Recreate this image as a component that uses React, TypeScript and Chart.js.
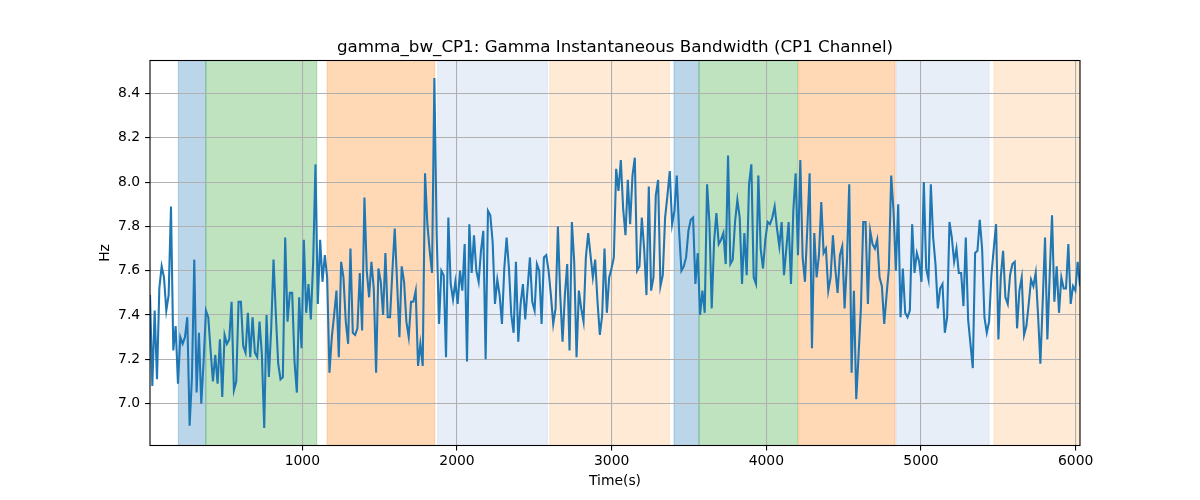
import { useEffect, useRef } from "react";
import { Chart, registerables } from "chart.js";

Chart.register(...registerables);

// sampling of the bandwidth trace (seconds)
const T_START = 15;
const T_STEP = 15.07;

// gamma instantaneous bandwidth, CP1 channel (Hz)
const bandwidth = [
  7.49, 7.08, 7.42, 7.11, 7.52, 7.62, 7.57, 7.42, 7.49, 7.89,
  7.24, 7.35, 7.09, 7.30, 7.27, 7.30, 7.39, 6.90, 7.12, 7.65,
  7.05, 7.32, 7.00, 7.19, 7.42, 7.39, 7.24, 7.10, 7.22, 7.09,
  7.29, 7.03, 7.31, 7.27, 7.29, 7.46, 7.06, 7.10, 7.46, 7.46,
  7.26, 7.23, 7.41, 7.21, 7.39, 7.23, 7.21, 7.37, 7.22, 6.89,
  7.40, 7.12, 7.34, 7.65, 7.40, 7.18, 7.11, 7.12, 7.75, 7.37,
  7.50, 7.50, 7.19, 7.05, 7.48, 7.25, 7.74, 7.41, 7.54, 7.38,
  7.64, 8.08, 7.45, 7.74, 7.55, 7.67, 7.57, 7.14, 7.30, 7.40,
  7.51, 7.21, 7.64, 7.57, 7.37, 7.27, 7.70, 7.32, 7.31, 7.34,
  7.59, 7.33, 7.93, 7.60, 7.48, 7.64, 7.52, 7.14, 7.61, 7.55,
  7.40, 7.68, 7.39, 7.39, 7.60, 7.79, 7.55, 7.30, 7.62, 7.55,
  7.37, 7.30, 7.46, 7.46, 7.51, 7.17, 7.27, 7.17, 8.04, 7.81,
  7.69, 7.59, 8.47, 7.76, 7.36, 7.60, 7.58, 7.21, 7.84, 7.54,
  7.47, 7.55, 7.45, 7.60, 7.51, 7.72, 7.19, 7.81, 7.59, 7.76,
  7.60, 7.55, 7.69, 7.78, 7.20, 7.87, 7.85, 7.73, 7.45, 7.56,
  7.49, 7.36, 7.61, 7.75, 7.61, 7.40, 7.32, 7.64, 7.28, 7.45,
  7.54, 7.38, 7.52, 7.66, 7.46, 7.42, 7.63, 7.60, 7.36, 7.66,
  7.67, 7.60, 7.49, 7.36, 7.43, 7.80, 7.49, 7.28, 7.49, 7.63,
  7.24, 7.82, 7.64, 7.21, 7.51, 7.43, 7.37, 7.66, 7.77, 7.67,
  7.57, 7.65, 7.46, 7.31, 7.40, 7.70, 7.41, 7.57, 7.61, 7.66,
  8.06, 7.96, 8.10, 7.88, 7.76, 8.01, 7.81, 8.03, 8.11, 7.60,
  7.62, 7.84, 7.70, 7.49, 7.98, 7.51, 7.57, 7.94, 8.01, 7.53,
  7.58, 7.84, 7.94, 8.05, 7.81, 7.87, 8.03, 7.78, 7.60, 7.62,
  7.66, 7.78, 7.83, 7.84, 7.54, 7.68, 7.40, 7.51, 7.41, 7.99,
  7.82, 7.43, 7.73, 7.86, 7.72, 7.74, 7.77, 7.63, 8.12, 7.63,
  7.65, 7.82, 7.92, 7.84, 7.54, 7.77, 7.58, 7.99, 8.08, 7.57,
  7.54, 8.03, 7.70, 7.61, 7.74, 7.82, 7.81, 7.84, 7.89, 7.79,
  7.71, 7.82, 7.58, 7.70, 7.82, 7.54, 7.87, 8.04, 7.67, 8.10,
  7.66, 7.55, 7.79, 8.04, 7.25, 7.77, 7.57, 7.67, 7.91, 7.68,
  7.70, 7.51, 7.57, 7.76, 7.61, 7.50, 7.67, 7.71, 7.43, 7.64,
  7.99, 7.14, 7.51, 7.02, 7.22, 7.43, 7.82, 7.82, 7.45, 7.78,
  7.72, 7.70, 7.74, 7.57, 7.53, 7.36, 7.49, 7.61, 8.03, 7.87,
  7.60, 7.90, 7.39, 7.61, 7.41, 7.39, 7.42, 7.81, 7.59, 7.68,
  7.64, 7.55, 8.00, 7.61, 7.56, 7.99, 7.75, 7.63, 7.43, 7.52,
  7.54, 7.32, 7.39, 7.82, 7.75, 7.64, 7.70, 7.59, 7.59, 7.44,
  7.75, 7.38, 7.27, 7.16, 7.68, 7.69, 7.83, 7.70, 7.39, 7.32,
  7.37, 7.58, 7.70, 7.81, 7.29, 7.57, 7.69, 7.48, 7.45, 7.58,
  7.63, 7.64, 7.34, 7.51, 7.57, 7.31, 7.35, 7.45, 7.56, 7.53,
  7.59, 7.40, 7.18, 7.46, 7.75, 7.29, 7.58, 7.85, 7.46, 7.62,
  7.41, 7.57, 7.52, 7.52, 7.72, 7.45, 7.53, 7.51, 7.64, 7.53,
];

// shaded stage spans (seconds)
const spanStart = [198, 376, 1160, 1875, 2600, 3403, 3565, 4209, 4838, 5472];
const spanEnd = [376, 1093, 1856, 2584, 3373, 3565, 4203, 4832, 5440, 6028];
const spanKind = [
  "blue", "green", "orange", "lightblue", "lightorange",
  "blue", "green", "orange", "lightblue", "lightorange",
];

const xTicks = [1000, 2000, 3000, 4000, 5000, 6000];
const yTicks = [7.0, 7.2, 7.4, 7.6, 7.8, 8.0, 8.2, 8.4];

const TITLE = "gamma_bw_CP1: Gamma Instantaneous Bandwidth (CP1 Channel)";

const SPAN_COLORS: Record<string, string> = {
  blue: "rgba(31,119,180,0.3)",
  green: "rgba(44,160,44,0.3)",
  orange: "rgba(255,127,14,0.3)",
  lightblue: "rgba(174,199,232,0.3)",
  lightorange: "rgba(255,187,120,0.3)",
};

const FONT = "'DejaVu Sans', sans-serif";

// spans under the grid, spines over the line, title on top
const decorations = {
  id: "decorations",
  beforeDraw(chart: any) {
    const { ctx, chartArea: a, scales } = chart;
    ctx.save();
    ctx.beginPath();
    ctx.rect(a.left, a.top, a.right - a.left, a.bottom - a.top);
    ctx.clip();
    spanStart.forEach((s, i) => {
      const x0 = scales.x.getPixelForValue(s);
      const x1 = scales.x.getPixelForValue(spanEnd[i]);
      const c = SPAN_COLORS[spanKind[i]];
      ctx.fillStyle = c;
      ctx.fillRect(x0, a.top, x1 - x0, a.bottom - a.top);
      ctx.strokeStyle = c;
      ctx.lineWidth = 1;
      ctx.beginPath();
      ctx.moveTo(x0, a.top);
      ctx.lineTo(x0, a.bottom);
      ctx.moveTo(x1, a.top);
      ctx.lineTo(x1, a.bottom);
      ctx.stroke();
    });
    ctx.restore();
  },
  afterDatasetsDraw(chart: any) {
    const { ctx, chartArea: a } = chart;
    ctx.save();
    ctx.strokeStyle = "#000";
    ctx.lineWidth = 1.1;
    ctx.strokeRect(a.left, a.top, a.right - a.left, a.bottom - a.top);
    ctx.restore();
  },
  afterDraw(chart: any) {
    const { ctx, chartArea: a } = chart;
    ctx.save();
    ctx.fillStyle = "#000";
    ctx.font = `16.7px ${FONT}`;
    ctx.textAlign = "center";
    ctx.textBaseline = "alphabetic";
    ctx.fillText(TITLE, (a.left + a.right) / 2, a.top - 8.3);
    ctx.restore();
  },
};

export default function App() {
  const canvasRef = useRef<HTMLCanvasElement>(null);

  useEffect(() => {
    const ctx = canvasRef.current?.getContext("2d");
    if (!ctx) return;

    const times = bandwidth.map((_, i) => T_START + i * T_STEP);
    const points = bandwidth.map((v, i) => ({ x: times[i], y: v }));
    const lo = Math.min(...bandwidth);
    const hi = Math.max(...bandwidth);
    const pad = (hi - lo) * 0.05;

    const tickFont = { family: FONT, size: 13.9 };

    const chart = new Chart(ctx, {
      type: "line",
      data: {
        datasets: [
          {
            data: points,
            borderColor: "#1f77b4",
            borderWidth: 2.08,
            pointRadius: 0,
            fill: false,
            tension: 0,
          },
        ],
      },
      options: {
        animation: false,
        responsive: false,
        layout: { padding: { top: 60.5, right: 120, bottom: 0, left: 0 } },
        plugins: {
          legend: { display: false },
          title: { display: false },
          tooltip: { enabled: false },
        },
        scales: {
          x: {
            type: "linear",
            min: times[0],
            max: times[times.length - 1],
            afterBuildTicks: (scale: any) => {
              scale.ticks = xTicks.map((v) => ({ value: v }));
            },
            afterFit: (scale: any) => {
              scale.height = 54.5;
            },
            ticks: {
              color: "#000",
              font: tickFont,
              padding: 3,
              maxRotation: 0,
              autoSkip: false,
              callback: (v: any) => String(v),
            },
            grid: {
              color: "#b0b0b0",
              lineWidth: 1.1,
              tickColor: "#000",
              tickLength: 4.9,
              tickWidth: 1.1,
            },
            border: { display: false },
            title: {
              display: true,
              text: "Time(s)",
              color: "#000",
              font: tickFont,
              padding: { top: 0, bottom: 10 },
            },
          },
          y: {
            type: "linear",
            min: lo - pad,
            max: hi + pad,
            afterBuildTicks: (scale: any) => {
              scale.ticks = yTicks.map((v) => ({ value: v }));
            },
            afterFit: (scale: any) => {
              scale.width = 150;
            },
            ticks: {
              color: "#000",
              font: tickFont,
              padding: 4.9,
              autoSkip: false,
              callback: (v: any) => Number(v).toFixed(1),
            },
            grid: {
              color: "#b0b0b0",
              lineWidth: 1.1,
              tickColor: "#000",
              tickLength: 4.9,
              tickWidth: 1.1,
            },
            border: { display: false },
            title: {
              display: true,
              text: "Hz",
              color: "#000",
              font: tickFont,
              padding: { top: 96.7, bottom: 0 },
            },
          },
        },
      },
      plugins: [decorations],
    });

    return () => {
      chart.destroy();
    };
  }, []);

  return (
    <div style={{ position: "absolute", left: 0, top: 0, width: 1200, height: 500, background: "#fff" }}>
      <canvas ref={canvasRef} width={1200} height={500} style={{ display: "block" }} />
    </div>
  );
}
